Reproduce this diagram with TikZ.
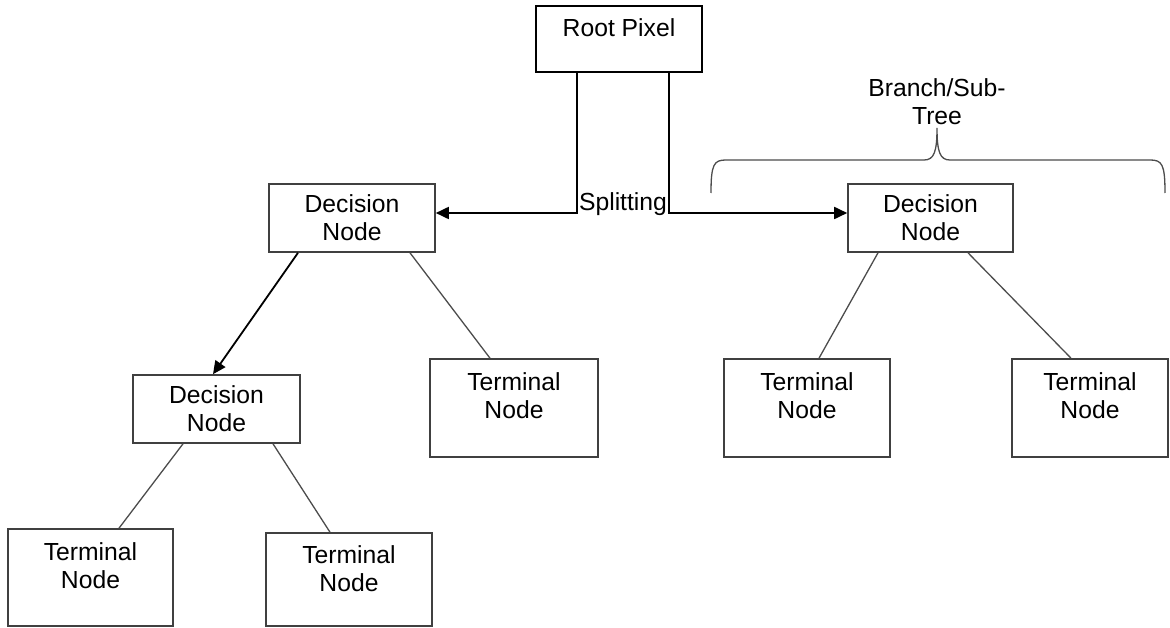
\documentclass[tikz,border=0pt]{standalone}
\usepackage{fontspec}
\setmainfont{Liberation Sans}
\usetikzlibrary{arrows.meta,calc}
\begin{document}
\begin{tikzpicture}[x=1pt,y=-1pt,
  every node/.style={font=\fontsize{24.7}{28}\selectfont},
  box/.style={draw=black!75,line width=1.6pt,rectangle,inner sep=0pt},
  rootbox/.style={draw=black,line width=2.6pt,rectangle,inner sep=0pt},
  lbl/.style={align=center,inner sep=0pt},
  thin/.style={draw=black!70,line width=1.3pt},
  arr/.style={draw=black,line width=1.8pt,-{Triangle[length=13pt,width=12pt]}}]
\useasboundingbox (0,0) rectangle (1170,628);
% boxes
\node[rootbox,minimum width=166pt,minimum height=66pt] (root) at (619,39) {};
\node[lbl] (roottxt) at (619,28) {Root Pixel};
\node[box,minimum width=166pt,minimum height=68pt,lbl] (dl) at (352,218) {Decision\\Node};
\node[box,minimum width=165pt,minimum height=68pt,lbl] (dr) at (930.5,218) {Decision\\Node};
\node[box,minimum width=167pt,minimum height=68pt,lbl] (dll) at (216.5,409) {Decision\\Node};
\node[box,minimum width=168pt,minimum height=98pt] (tm) at (514,408) {};
\node[lbl] (tmtxt) at (514,396) {Terminal\\Node};
\node[box,minimum width=166pt,minimum height=98pt] (tr1) at (807,408) {};
\node[lbl] (tr1txt) at (807,396) {Terminal\\Node};
\node[box,minimum width=156pt,minimum height=98pt] (tr2) at (1090,408) {};
\node[lbl] (tr2txt) at (1090,396) {Terminal\\Node};
\node[box,minimum width=165pt,minimum height=97pt] (b1) at (90.5,577.5) {};
\node[lbl] (b1txt) at (90.5,566) {Terminal\\Node};
\node[box,minimum width=166pt,minimum height=93pt] (b2) at (349,579.5) {};
\node[lbl] (b2txt) at (349,569) {Terminal\\Node};
% splitting
\node[lbl] (split) at (623,204) {Splitting};
\draw[arr] ([xshift=-42pt]root.south) |- ([yshift=5pt]dl.east);
\draw[arr] ([xshift=50pt]root.south) |- ([yshift=5pt]dr.west);
\draw[arr] ([xshift=-54pt]dl.south) -- ([xshift=-3.5pt]dll.north);
\draw[thin] ([xshift=58pt]dl.south) -- ([xshift=-24pt]tm.north);
\draw[thin] ([xshift=-52.5pt]dr.south) -- ([xshift=12pt]tr1.north);
\draw[thin] ([xshift=37.5pt]dr.south) -- ([xshift=-19pt]tr2.north);
\draw[thin] ([xshift=-33.5pt]dll.south) -- ([xshift=28.5pt]b1.north);
\draw[thin] ([xshift=56.5pt]dll.south) -- ([xshift=-19pt]b2.north);
% brace
\coordinate (bl) at (711,193);
\coordinate (br) at (1165,193);
\coordinate (bt) at (937,128);
\draw[thin] (bl) .. controls (711,164) and (714,160) .. (726,160) -- (924,160)
  .. controls (934,160) and (937,152) .. (bt)
  .. controls (937,152) and (940,160) .. (950,160) -- (1150,160)
  .. controls (1162,160) and (1165,164) .. (br);
\node[lbl] (brtxt) at (937,102) {Branch/Sub-\\Tree};
\end{tikzpicture}
\end{document}
